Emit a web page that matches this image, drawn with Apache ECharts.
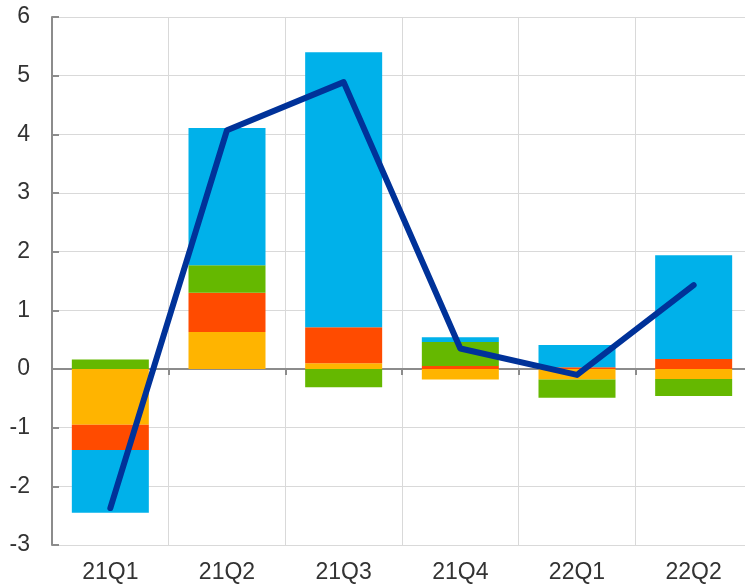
<!DOCTYPE html>
<html>
<head>
<meta charset="utf-8">
<script src="https://cdn.jsdelivr.net/npm/echarts@6/dist/echarts.min.js"></script>
<style>
html, body { margin: 0; padding: 0; background: #fff; overflow: hidden; }
/* the plot runs a little past the right edge of the picture */
#main { width: 752px; height: 584px; }
</style>
</head>
<body>
<div id="main"></div>
<script type="text/javascript">
// categories and series values
var quarters = ['21Q1', '21Q2', '21Q3', '21Q4', '22Q1', '22Q2'];
var yellowVals = [-0.95, 0.63, 0.10, -0.18, -0.18, -0.17];
var redVals    = [-0.43, 0.67, 0.61, 0.05, 0.03, 0.17];
var greenVals  = [0.16, 0.47, -0.31, 0.41, -0.31, -0.29];
var blueVals   = [-1.07, 2.34, 4.69, 0.08, 0.38, 1.77];
var totalLine  = [-2.37, 4.07, 4.89, 0.35, -0.10, 1.43];

var myChart = echarts.init(document.getElementById('main'));

function barSeries(name, data, color) {
	return {
		name: name,
		type: 'bar',
		stack: 'total',
		barWidth: '66%',
		xAxisIndex: 0,
		itemStyle: { color: color },
		data: data
	};
}

var option = {
	animation: false,
	grid: { left: 52, top: 17, right: 0, bottom: 39 },
	xAxis: [
		{
			type: 'category',
			data: quarters,
			axisLine: { show: false, onZero: false },
			axisTick: { show: false },
			axisLabel: { fontSize: 23, color: '#333', margin: 16, fontFamily: 'Arial, Liberation Sans' },
			splitLine: { show: true, lineStyle: { color: '#d9d9d9', width: 1 } }
		},
		{
			type: 'category',
			data: quarters,
			position: 'bottom',
			axisLine: { show: true, onZero: true, lineStyle: { color: '#8c8c8c', width: 2 } },
			axisTick: { show: true, length: 6, lineStyle: { color: '#8c8c8c', width: 2 } },
			axisLabel: { show: false },
			splitLine: { show: false }
		}
	],
	yAxis: {
		type: 'value',
		min: -3,
		max: 6,
		interval: 1,
		axisLine: { show: true, lineStyle: { color: '#8c8c8c', width: 2 } },
		axisTick: { show: true, inside: true, length: 7, lineStyle: { color: '#8c8c8c', width: 2 } },
		axisLabel: { fontSize: 23, color: '#333', margin: 22, fontFamily: 'Arial, Liberation Sans' },
		splitLine: { show: true, lineStyle: { color: '#d9d9d9', width: 1 } }
	},
	series: [
		barSeries('yellow', yellowVals, '#FFB400'),
		barSeries('red', redVals, '#FF4B00'),
		barSeries('green', greenVals, '#65B800'),
		barSeries('blue', blueVals, '#00B1EA'),
		{
			name: 'total',
			type: 'line',
			xAxisIndex: 0,
			symbol: 'none',
			z: 5,
			lineStyle: { color: '#003299', width: 6, cap: 'round', join: 'round' },
			data: totalLine
		}
	]
};

myChart.setOption(option);
</script>
</body>
</html>
